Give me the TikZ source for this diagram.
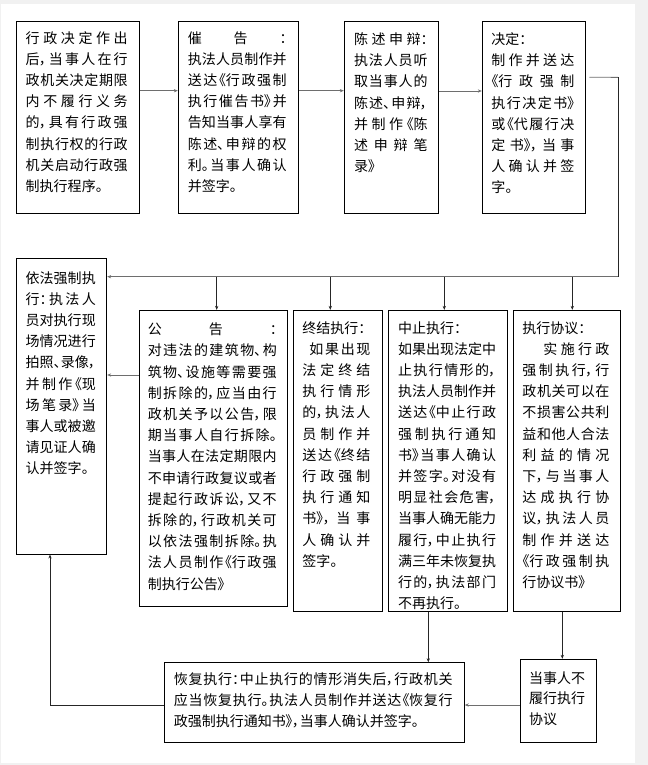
\documentclass[tikz,border=0pt]{standalone}
\usepackage{fontspec}
\setmainfont{Noto Sans CJK SC}[RawFeature=+palt]
\usetikzlibrary{arrows.meta}
\XeTeXlinebreaklocale "zh"
\XeTeXlinebreakskip=0pt plus 1em
\definecolor{pagegrey}{HTML}{F1F1F1}
\definecolor{linegrey}{HTML}{6E6E6E}
\newcommand\jbr{\penalty-10000\relax}
\newcommand\rbr{\hfil\penalty-10000\relax}
\newcommand\btxt[2]{\parbox[t]{#1}{\fontsize{14bp}{21.2bp}\selectfont\tolerance=10000 \rule{0pt}{14bp}#2}}
\tikzset{
  box/.style={draw=black, line width=0.9bp, inner sep=0pt, fill=white},
  txt/.style={anchor=north west, inner sep=0pt, text=black},
  arr/.style={line width=0.9bp, -{Stealth[length=4bp,width=3.2bp]}},
  hline/.style={draw=linegrey},
  vline/.style={draw=black!85}
}
\begin{document}
\begin{tikzpicture}[x=1bp,y=-1bp]
\useasboundingbox (0,0) rectangle (648,765);
\fill[pagegrey] (0,0) rectangle (648,765);
\fill[white] (1,4) rectangle (635,763);

% top row
\node[box, minimum width=123bp, minimum height=191.6bp] (b1) at (78,117.5) {};
\node[box, minimum width=120bp, minimum height=191.6bp] (b2) at (238.3,117.5) {};
\node[box, minimum width=94.4bp, minimum height=191.6bp] (b3) at (391.5,117.5) {};
\node[box, minimum width=103.4bp, minimum height=191.6bp] (b4) at (534,117.5) {};
% middle row
\node[box, minimum width=90.4bp, minimum height=295.7bp] (b5) at (61.5,406.2) {};
\node[box, minimum width=148bp, minimum height=295.7bp] (b6) at (213.3,458.2) {};
\node[box, minimum width=89.4bp, minimum height=300.7bp] (b7) at (338,460.7) {};
\node[box, minimum width=119.4bp, minimum height=300.7bp] (b8) at (448,460.7) {};
\node[box, minimum width=107.4bp, minimum height=300.7bp] (b9) at (567,460.7) {};
% bottom row
\node[box, minimum width=299.6bp, minimum height=79.6bp] (b10) at (314.5,702.5) {};
\node[box, minimum width=76bp, minimum height=83bp] (b11) at (558.3,700.8) {};

% texts
\node[txt] (t1) at ([xshift=9.5bp,yshift=-7.6bp]b1.north west) {\btxt{102bp}{行政决定作出\jbr 后，当事人在行\jbr 政机关决定期限\jbr 内不履行义务\jbr 的，具有行政强\jbr 制执行权的行政\jbr 机关启动行政强\jbr 制执行程序。}};
\node[txt] (t2) at ([xshift=9.7bp,yshift=-7.6bp]b2.north west) {\btxt{99bp}{催\hfill 告\hfill ：\jbr 执法人员制作并\jbr 送达《行政强制\jbr 执行催告书》并\jbr 告知当事人享有\jbr 陈述、申辩的权\jbr 利。当事人确认\jbr 并签字。}};
\node[txt] (t3) at ([xshift=10bp,yshift=-9bp]b3.north west) {\btxt{73.5bp}{陈述申辩：\jbr 执法人员听\jbr 取当事人的\jbr 陈述、申辩，\jbr 并制作《陈\jbr 述申辩笔\jbr 录》}};
\node[txt] (t4) at ([xshift=9.4bp,yshift=-9bp]b4.north west) {\btxt{83bp}{决定：\rbr 制作并送达\jbr 《行政强制\jbr 执行决定书》\jbr 或《代履行决\jbr 定书》，当事\jbr 人确认并签\jbr 字。}};
\node[txt] (t5) at ([xshift=9.7bp,yshift=-11bp]b5.north west) {\btxt{70bp}{依法强制执\jbr 行：执法人\jbr 员对执行现\jbr 场情况进行\jbr 拍照、录像，\jbr 并制作《现\jbr 场笔录》当\jbr 事人或被邀\jbr 请见证人确\jbr 认并签字。}};
\node[txt] (t6) at ([xshift=8.7bp,yshift=-10.6bp]b6.north west) {\btxt{129bp}{公\hfill 告\hfill ：\jbr 对违法的建筑物、构\jbr 筑物、设施等需要强\jbr 制拆除的，应当由行\jbr 政机关予以公告，限\jbr 期当事人自行拆除。\jbr 当事人在法定期限内\jbr 不申请行政复议或者\jbr 提起行政诉讼，又不\jbr 拆除的，行政机关可\jbr 以依法强制拆除。执\jbr 法人员制作《行政强\jbr 制执行公告》}};
\node[txt] (t7) at ([xshift=9.4bp,yshift=-9bp]b7.north west) {\btxt{68bp}{终结执行：\rbr \hspace*{7bp}如果出现\jbr 法定终结\jbr 执行情形\jbr 的，执法人\jbr 员制作并\jbr 送达《终结\jbr 行政强制\jbr 执行通知\jbr 书》，当事\jbr 人确认并\jbr 签字。}};
\node[txt] (t8) at ([xshift=10bp,yshift=-9bp]b8.north west) {\btxt{98bp}{中止执行：\rbr 如果出现法定中\jbr 止执行情形的，\jbr 执法人员制作并\jbr 送达《中止行政\jbr 强制执行通知\jbr 书》当事人确认\jbr 并签字。对没有\jbr 明显社会危害，\jbr 当事人确无能力\jbr 履行，中止执行\jbr 满三年未恢复执\jbr 行的，执法部门\jbr 不再执行。}};
\node[txt] (t9) at ([xshift=9.4bp,yshift=-9bp]b9.north west) {\btxt{87bp}{执行协议：\rbr \hspace*{21bp}实施行政\jbr 强制执行，行\jbr 政机关可以在\jbr 不损害公共利\jbr 益和他人合法\jbr 利益的情况\jbr 下，与当事人\jbr 达成执行协\jbr 议，执法人员\jbr 制作并送达\jbr 《行政强制执\jbr 行协议书》}};
\node[txt] (t10) at ([xshift=9.3bp,yshift=-8bp]b10.north west) {\parbox[t]{279bp}{\fontsize{14bp}{20.8bp}\selectfont\tolerance=10000 \rule{0pt}{14bp}恢复执行：中止执行的情形消失后，行政机关\jbr 应当恢复执行。执法人员制作并送达《恢复行\jbr 政强制执行通知书》，当事人确认并签字。}};
\node[txt] (t11) at ([xshift=9bp,yshift=-10bp]b11.north west) {\parbox[t]{57bp}{\fontsize{14bp}{20.8bp}\selectfont\tolerance=10000 \rule{0pt}{14bp}当事人不\rbr 履行执行\rbr 协议}};

% connectors, top row
\draw[arr, hline] ([yshift=26.8bp]b1.east) -- ([yshift=26.8bp]b1.east -| b2.west);
\draw[arr, hline] ([yshift=26.8bp]b2.east) -- ([yshift=26.8bp]b2.east -| b3.west);
\draw[arr, hline] ([yshift=26.5bp]b3.east) -- ([yshift=26.5bp]b3.east -| b4.west);

\coordinate (c1) at (618,77.3);
\coordinate (c2) at (618,276.7);
\draw[hline, line width=0.9bp] ([xshift=3.3bp,yshift=40.2bp]b4.east) -- (c1);
\draw[vline, line width=0.9bp] (c1) -- (c2);
\draw[arr, hline] (c2) -- (c2 -| b5.east);

% branches down
\draw[arr, vline] ([xshift=3.4bp]b6.north |- c2) -- ([xshift=3.4bp]b6.north);
\draw[arr, vline] ([xshift=-7.7bp]b7.north |- c2) -- ([xshift=-7.7bp]b7.north);
\draw[arr, vline] ([xshift=-3.7bp]b8.north |- c2) -- ([xshift=-3.7bp]b8.north);
\draw[arr, vline] ([xshift=5.3bp]b9.north |- c2) -- ([xshift=5.3bp]b9.north);

% 公告 -> 依法强制执行
\draw[arr, hline] ([yshift=83.2bp]b6.west) -- ([yshift=83.2bp]b6.west -| b5.east);

% lower connectors
\draw[arr, vline] ([xshift=-19.7bp]b8.south) -- ([xshift=-19.7bp]b8.south |- b10.north);
\draw[arr, vline] ([xshift=-4.7bp]b9.south) -- ([xshift=-4.7bp]b9.south |- b11.north);
\draw[arr, hline] ([yshift=-4.2bp]b11.west) -- ([yshift=-4.2bp]b11.west -| b10.east);
\coordinate (c3) at (50,705);
\draw[arr, vline] (c3 -| b10.west) -- (c3) -- (c3 |- b5.south);
\end{tikzpicture}
\end{document}
